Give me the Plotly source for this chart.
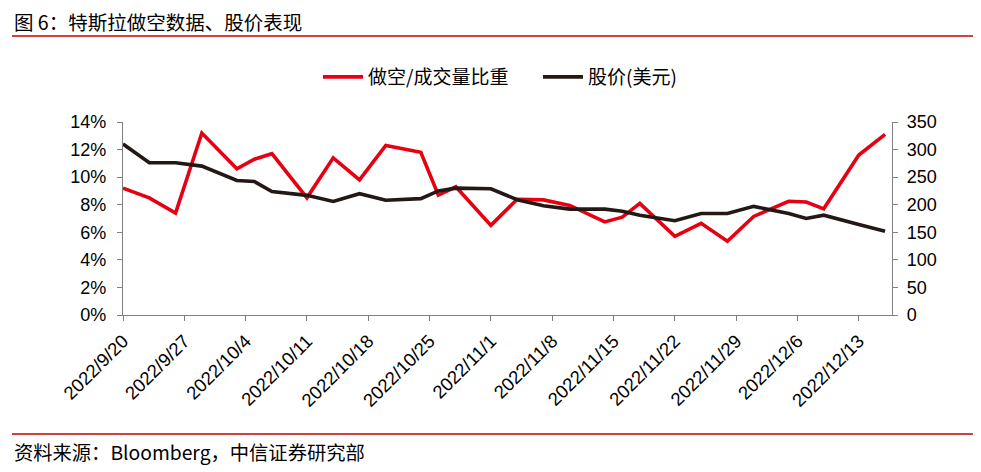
import plotly.graph_objects as go

dates = ["2022-09-20","2022-09-23","2022-09-26","2022-09-29","2022-10-03","2022-10-05","2022-10-07",
         "2022-10-11","2022-10-14","2022-10-17","2022-10-20","2022-10-24","2022-10-26","2022-10-28",
         "2022-11-01","2022-11-04","2022-11-07","2022-11-10","2022-11-14","2022-11-16","2022-11-18",
         "2022-11-22","2022-11-25","2022-11-28","2022-12-01","2022-12-05","2022-12-07","2022-12-09",
         "2022-12-13","2022-12-16"]
short_ratio = [9.2, 8.5, 7.4, 13.2, 10.6, 11.3, 11.7,
               8.5, 11.4, 9.8, 12.3, 11.8, 8.7, 9.3,
               6.5, 8.4, 8.35, 7.95, 6.75, 7.1, 8.1,
               5.7, 6.65, 5.35, 7.15, 8.25, 8.2, 7.7,
               11.6, 13.1]
price = [310, 276, 276, 270, 244, 242, 224,
         217, 206, 220, 208, 211, 225, 230,
         229, 209, 198, 192, 192, 188, 181,
         171, 184, 184, 197, 184, 175, 181,
         164, 152]
tick_dates = ["2022-09-20","2022-09-27","2022-10-04","2022-10-11","2022-10-18","2022-10-25",
              "2022-11-01","2022-11-08","2022-11-15","2022-11-22","2022-11-29","2022-12-06","2022-12-13"]
tick_labels = ["2022/9/20","2022/9/27","2022/10/4","2022/10/11","2022/10/18","2022/10/25",
               "2022/11/1","2022/11/8","2022/11/15","2022/11/22","2022/11/29","2022/12/6","2022/12/13"]

# the page body has an 8px margin; work in reference pixels and shift
OFF = 8
W, H = 981 - OFF, 472 - OFF
L, R, T, B = 123 - OFF, 892 - OFF, 122 - OFF, 315 - OFF

def px(x):
    return (x - OFF - L) / (R - L)

def py(y):
    return (B - (y - OFF)) / (B - T)

RED = "#e60012"
BLACK = "#231815"
GRAY = "#808080"
FONT = "Liberation Sans, Arial, sans-serif"
CJK = "Noto Sans CJK SC, sans-serif"

fig = go.Figure()
fig.add_trace(go.Scatter(x=dates, y=short_ratio, name="做空/成交量比重", mode="lines",
                         line=dict(color=RED, width=3.6)))
fig.add_trace(go.Scatter(x=dates, y=price, name="股价(美元)", mode="lines", yaxis="y2",
                         line=dict(color=BLACK, width=3.6)))

fig.update_layout(
    width=W, height=H,
    margin=dict(l=L, r=W - R, t=T, b=H - B, pad=0),
    paper_bgcolor="white", plot_bgcolor="white",
    font=dict(family=FONT, size=18, color="#000000"),
    showlegend=True,
    legend=dict(orientation="h", x=px(318), xanchor="left", y=py(77), yanchor="middle",
                font=dict(size=19, family=CJK),
                itemwidth=40, tracegroupgap=0, entrywidth=165, entrywidthmode="pixels"),
    xaxis=dict(type="date", range=["2022-09-20", "2022-12-16 19:00"],
               tickmode="array", tickvals=tick_dates, ticktext=tick_labels,
               tickangle=-45, ticks="outside", ticklen=5, tickcolor=GRAY,
               showline=True, linecolor=GRAY, linewidth=1.2, showgrid=False, zeroline=False,
               tickfont=dict(size=18.5, family=FONT), ticklabelstandoff=2),
    yaxis=dict(range=[0, 14], tickvals=[0, 2, 4, 6, 8, 10, 12, 14],
               ticktext=["0%", "2%", "4%", "6%", "8%", "10%", "12%", "14%"],
               ticks="outside", ticklen=5, tickcolor=GRAY, showline=True, linecolor=GRAY,
               linewidth=1.2, showgrid=False, zeroline=False, tickfont=dict(size=18),
               ticklabelstandoff=7),
    yaxis2=dict(range=[0, 350], tickvals=[0, 50, 100, 150, 200, 250, 300, 350],
                overlaying="y", side="right", ticks="outside", ticklen=5, tickcolor=GRAY,
                showline=True, linecolor=GRAY, linewidth=1.2, showgrid=False, zeroline=False,
                tickfont=dict(size=18), ticklabelstandoff=5),
)

# title and rules
fig.add_annotation(text="图 6：特斯拉做空数据、股价表现", xref="paper", yref="paper",
                   x=px(12), y=py(22), xanchor="left", yanchor="middle", showarrow=False,
                   font=dict(size=19.5, family=CJK, color="#000"))
fig.add_shape(type="line", xref="paper", yref="paper", x0=px(12), x1=px(978), y0=py(36), y1=py(36),
              line=dict(color="#c00000", width=1.5))
fig.add_shape(type="line", xref="paper", yref="paper", x0=px(12), x1=px(978), y0=py(434), y1=py(434),
              line=dict(color="#c00000", width=1.5))
fig.add_annotation(text="资料来源：Bloomberg，中信证券研究部", xref="paper", yref="paper",
                   x=px(12), y=py(452), xanchor="left", yanchor="middle", showarrow=False,
                   font=dict(size=19.3, family=CJK, color="#000"))

fig.write_html("out.html")
